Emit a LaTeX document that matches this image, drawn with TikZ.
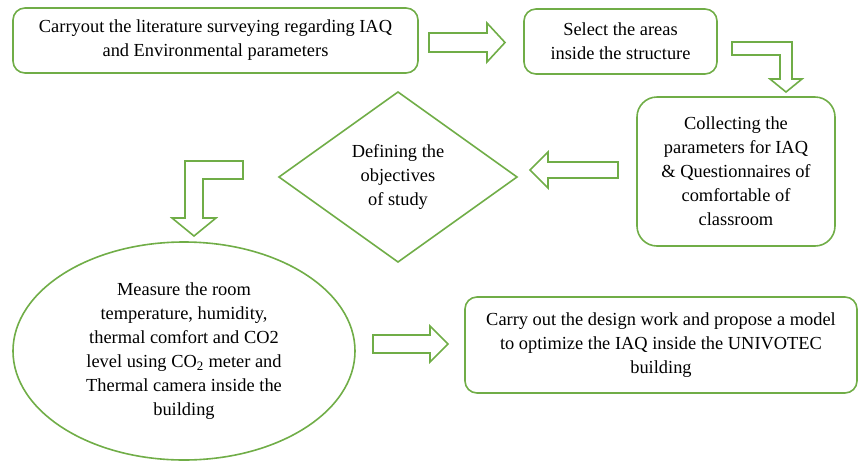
\documentclass[tikz,border=0pt]{standalone}
\usepackage{fontspec}
\setmainfont{Liberation Serif}
\usetikzlibrary{shapes.geometric}

\definecolor{leaf}{RGB}{112,173,71}

\begin{document}
\begin{tikzpicture}[x=0.75pt,y=-0.75pt,
		every node/.style={font=\fontsize{13.8}{18}\selectfont,align=center,inner sep=0pt,outer sep=0pt},
		box/.style={draw=leaf,line width=1.2pt,rounded corners=9pt},
		blockarrow/.style={draw=leaf,line width=1.2pt,line join=miter}]
		\useasboundingbox (0,0) rectangle (858,462);
		
		% boxes
		\node[box,minimum width=303.75pt,minimum height=48.75pt] (survey) at (215.5,40.5)
			{Carryout the literature surveying regarding IAQ\\and Environmental parameters};
		\node[box,minimum width=144.75pt,minimum height=48.75pt] (areas) at (620.5,41.5)
			{Select the areas\\inside the structure};
		\node[box,rounded corners=15pt,minimum width=148.5pt,minimum height=111.75pt] (collect) at (736,171.5)
			{Collecting the\\parameters for IAQ\\\& Questionnaires of\\comfortable of\\classroom};
		\node[draw=leaf,line width=1.2pt,diamond,minimum width=178.5pt,minimum height=127.5pt] (objective) at (398,177)
			{Defining the\\objectives\\of study};
		\node[draw=leaf,line width=1.2pt,ellipse,minimum width=256.5pt,minimum height=163.5pt] (measure) at (184,351)
			{Measure the room\\temperature, humidity,\\thermal comfort and CO2\\level using CO\textsubscript{2} meter and\\Thermal camera inside the\\building};
		\node[box,minimum width=294pt,minimum height=72pt] (design) at (661,345)
			{Carry out the design work and propose a model\\to optimize the IAQ inside the UNIVOTEC\\building};
		
		% block arrows
		\draw[blockarrow] (429,33) -- (487,33) -- (487,23) -- (505,42.5) -- (487,62) -- (487,52) -- (429,52) -- cycle;
		\draw[blockarrow] (732,42) -- (792,42) -- (792,79) -- (802,79) -- (786,92) -- (770,79) -- (780,79) -- (780,55) -- (732,55) -- cycle;
		\draw[blockarrow] (618,162) -- (548,162) -- (548,152) -- (530,170) -- (548,188) -- (548,178) -- (618,178) -- cycle;
		\draw[blockarrow] (243,161) -- (185,161) -- (185,218) -- (172,218) -- (194,236) -- (216,218) -- (203,218) -- (203,179) -- (243,179) -- cycle;
		\draw[blockarrow] (373,335) -- (430,335) -- (430,326) -- (448,344) -- (430,362) -- (430,353) -- (373,353) -- cycle;
	\end{tikzpicture}
\end{document}
